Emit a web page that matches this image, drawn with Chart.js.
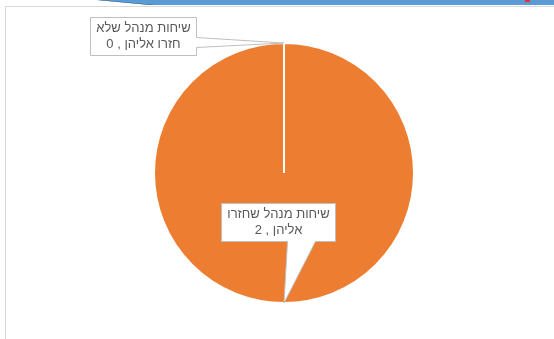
<!DOCTYPE html>
<html>
<head>
<meta charset="utf-8">
<script src="https://cdn.jsdelivr.net/npm/chart.js@4"></script>
<style>
html,body{margin:0;padding:0;background:#fff;overflow:hidden}
#frame{position:absolute;left:5px;top:6px;width:600px;height:400px;border:1px solid #d9d9d9;box-sizing:border-box}
#bar{position:absolute;left:0;top:0;width:554px;height:5px;background:#5b9bd5;clip-path:polygon(97px 0,554px 0,554px 5px,150px 5px)}
#barEdge{position:absolute;left:0;top:0;width:554px;height:5px;background:#2e5f8f;clip-path:polygon(97px 0,102px 0,155px 5px,150px 5px)}
#red{position:absolute;left:525px;top:0;width:5px;height:2px;background:#e0303a}
#wrap{position:absolute;left:0;top:0;width:554px;height:339px}
</style>
</head>
<body>
<div id="frame"></div>
<div id="bar"></div><div id="barEdge"></div><div id="red"></div>
<div id="wrap"><canvas id="c"></canvas></div>
<script>
// data
const categories = ['שיחות מנהל שלא חזרו אליהן', 'שיחות מנהל שחזרו אליהן'];
const values = [0, 2];
const colors = ['#5b9bd5', '#ed7d31'];

// callout placement (box top-left relative to the slice anchor, tail base on box edge)
const callouts = [
  {dx: -194, dy: -26, side: 'right', a: 20, b: 30},
  {dx: -63, dy: -100, side: 'bottom', a: 66, b: 94}
];

function wrapText(ctx, text, maxW){
  const words = text.split(' '); const lines = []; let cur = '';
  words.forEach(w => {
    const t = cur ? cur + ' ' + w : w;
    if (cur && ctx.measureText(t).width > maxW) { lines.push(cur); cur = w; } else cur = t;
  });
  if (cur) lines.push(cur);
  return lines;
}

const calloutPlugin = {
  id: 'callouts',
  afterDraw(chart){
    const ctx = chart.ctx;
    const meta = chart.getDatasetMeta(0);
    ctx.save();
    ctx.font = '13px "Liberation Sans", Arial, sans-serif';
    ctx.direction = 'rtl';
    meta.data.forEach((arc, i) => {
      const p = arc.getProps(['x','y','startAngle','endAngle','outerRadius'], true);
      const mid = (p.startAngle + p.endAngle) / 2;
      const ax = p.x + Math.cos(mid) * p.outerRadius;
      const ay = p.y + Math.sin(mid) * p.outerRadius;
      const lines = wrapText(ctx, categories[i] + ' , ' + values[i], 108);
      const tw = Math.max(...lines.map(l => ctx.measureText(l).width));
      const co = callouts[i];
      const w = Math.round(tw + 12), h = lines.length * 16 + 6;
      const l = Math.round(ax + co.dx) + 0.5, t = Math.round(ay + co.dy) + 0.5;
      ctx.beginPath();
      ctx.moveTo(l, t); ctx.lineTo(l + w, t);
      if (co.side === 'right') { ctx.lineTo(l + w, t + co.a); ctx.lineTo(ax, ay); ctx.lineTo(l + w, t + co.b); }
      ctx.lineTo(l + w, t + h);
      if (co.side === 'bottom') { ctx.lineTo(l + co.b, t + h); ctx.lineTo(ax, ay); ctx.lineTo(l + co.a, t + h); }
      ctx.lineTo(l, t + h); ctx.closePath();
      ctx.fillStyle = '#fff'; ctx.fill();
      ctx.strokeStyle = '#bfbfbf'; ctx.lineWidth = 1; ctx.stroke();
      ctx.fillStyle = '#595959'; ctx.textAlign = 'center'; ctx.textBaseline = 'middle';
      lines.forEach((ln, k) => ctx.fillText(ln, l + w / 2, t + 11 + k * 16));
    });
    ctx.restore();
  }
};

new Chart(document.getElementById('c'), {
  type: 'pie',
  data: {
    labels: categories,
    datasets: [{data: values, backgroundColor: colors, borderColor: '#fff', borderWidth: 2}]
  },
  options: {
    responsive: true, maintainAspectRatio: false, animation: false,
    layout: {padding: {left: 14, right: 0, top: 42, bottom: 35}},
    plugins: {legend: {display: false}, tooltip: {enabled: false}}
  },
  plugins: [calloutPlugin]
});
</script>
</body>
</html>
